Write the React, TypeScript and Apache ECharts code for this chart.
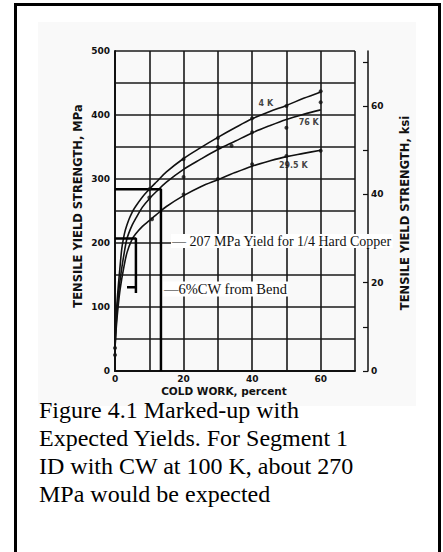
import React, { useEffect, useRef } from "react";
import * as echarts from "echarts";

// Cold work (%) vs tensile yield strength (MPa)
const curve4K: [number, number][] = [
  [0, 35], [0.2, 70], [0.5, 100], [1, 135], [1.5, 165], [2, 192], [2.5, 208], [3, 220], [4, 236],
  [5, 248], [6, 257], [8, 272], [10, 284], [12, 295], [15, 311], [20, 332], [25, 349],
  [30, 365], [35, 380], [40, 394], [45, 405], [50, 415], [55, 426], [60, 436],
];
const curve76K: [number, number][] = [
  [0, 35], [0.3, 70], [0.7, 100], [1.2, 130], [2, 162], [2.7, 185], [3.4, 205], [4, 215], [5, 228],
  [6, 238], [8, 256], [10, 269], [12, 280], [15, 295], [20, 315], [25, 331],
  [30, 346], [35, 359], [40, 372], [45, 383], [50, 393], [55, 401], [60, 408],
];
const curve295K: [number, number][] = [
  [0, 35], [0.4, 70], [0.9, 100], [1.5, 128], [2.5, 160], [3.5, 185], [4.9, 205], [6, 214],
  [8, 226], [10, 235], [12, 244], [15, 257], [20, 274], [25, 288], [30, 299],
  [35, 310], [40, 320], [45, 328], [50, 335], [55, 340], [60, 345],
];
const points4K: [number, number][] = [[10, 284], [20, 331], [30, 364], [40, 395], [50, 414], [60, 437]];
const points76K: [number, number][] = [[10, 271], [20, 303], [30, 350], [34, 352], [40, 373], [50, 380], [60, 420]];
const points295K: [number, number][] = [[10.8, 237], [20, 276], [30, 300], [40, 323], [50, 336], [60, 344]];
const pointsZero: [number, number][] = [[0, 36], [0, 25]];

const curveLabels: { name: string; value: [number, number] }[] = [
  { name: "4 K", value: [44, 418] },
  { name: "76 K", value: [56.5, 389] },
  { name: "29.5 K", value: [52, 321] },
];

// Marked-up annotation lines (CW %, MPa)
const mark283: [number, number][] = [[0, 284], [13.4, 284], [13.4, 0]];
const mark207: [number, number][] = [[0, 207], [6.1, 207], [6.1, 122]];
const markTick: [number, number][] = [[3.5, 131], [6.1, 131]];

const xTickLabels = [0, 20, 40, 60];
const yTickLabels = [0, 100, 200, 300, 400, 500];
const ksiTickLabels = [0, 20, 40, 60];

const captionLines = [
  "Figure 4.1 Marked-up with",
  "Expected Yields. For Segment 1",
  "ID with CW at 100 K, about 270",
  "MPa would be expected",
];

const axisFont = "DejaVu Sans";
const serif = "Liberation Serif";

export default function App() {
  const ref = useRef<HTMLDivElement>(null);
  useEffect(() => {
    if (!ref.current) return;
    const chart = echarts.init(ref.current, null, { renderer: "svg" });
    const lineStyleCurve = { color: "#111", width: 1.6 };
    const lineSeries = (name: string, data: [number, number][]) => ({
      name,
      type: "line",
      data,
      smooth: 0.35,
      showSymbol: false,
      lineStyle: lineStyleCurve,
      z: 3,
    });
    const markSeries = (data: [number, number][]) => ({
      type: "line",
      data,
      showSymbol: false,
      lineStyle: { color: "#000", width: 2.5 },
      z: 4,
    });
    const captionTexts = captionLines.map((line, i) => ({
      type: "text",
      x: 39,
      y: 409.5 + i * 28.3,
      z: 10,
      style: { text: line, fontFamily: serif, fontSize: 24, lineHeight: 18, fill: "#000", align: "left", verticalAlign: "middle" },
    }));
    chart.setOption({
      animation: false,
      backgroundColor: "#fff",
      grid: { left: 115, top: 51, width: 240, height: 320 },
      xAxis: {
        type: "value",
        min: 0,
        max: 70,
        interval: 10,
        axisLine: { show: true, lineStyle: { color: "#111", width: 2 } },
        axisTick: { show: false },
        axisLabel: {
          margin: 3,
          fontFamily: axisFont,
          fontWeight: "bold",
          fontSize: 9,
          color: "#111",
          formatter: (v: number) => (xTickLabels.includes(v) ? String(v) : ""),
        },
        splitLine: { show: true, lineStyle: { color: "#1a1a1a", width: 1.6 } },
      },
      yAxis: [
        {
          type: "value",
          min: 0,
          max: 500,
          interval: 50,
          axisLine: { show: true, lineStyle: { color: "#111", width: 2 } },
          axisTick: { show: false },
          axisLabel: {
            margin: 5,
            fontFamily: axisFont,
            fontWeight: "bold",
            fontSize: 9,
            color: "#111",
            formatter: (v: number) => (yTickLabels.includes(v) ? String(v) : ""),
          },
          splitLine: { show: true, lineStyle: { color: "#1a1a1a", width: 1.6 } },
        },
        {
          type: "value",
          position: "right",
          offset: 13,
          min: 0,
          max: 500 / 6.895,
          interval: 10,
          axisLine: { show: true, lineStyle: { color: "#111", width: 1.5 } },
          axisTick: { show: true, inside: true, length: 5, lineStyle: { color: "#111", width: 1.2 } },
          axisLabel: {
            margin: 3,
            fontFamily: axisFont,
            fontWeight: "bold",
            fontSize: 9,
            color: "#111",
            showMaxLabel: false,
            formatter: (v: number) => (ksiTickLabels.includes(Math.round(v)) && Math.abs(v - Math.round(v)) < 1e-6 ? String(Math.round(v)) : ""),
          },
          splitLine: { show: false },
        },
      ],
      series: [
        lineSeries("4 K", curve4K),
        lineSeries("76 K", curve76K),
        lineSeries("29.5 K", curve295K),
        {
          type: "scatter",
          data: [...points4K, ...points76K, ...points295K, ...pointsZero],
          symbolSize: 4,
          itemStyle: { color: "#111" },
          z: 5,
        },
        {
          type: "scatter",
          data: curveLabels,
          symbolSize: 0,
          label: {
            show: true,
            formatter: (p: any) => p.name,
            fontFamily: axisFont,
            fontWeight: "bold",
            fontSize: 8,
            color: "#111",
            position: "inside",
          },
          z: 6,
        },
        markSeries(mark283),
        markSeries(mark207),
        markSeries(markTick),
      ],
      graphic: [
        { type: "rect", z: -10, shape: { x: 38, y: 22, width: 378, height: 384 }, style: { fill: "#f9f9f9" } },
        { type: "rect", z: 100, shape: { x: 15.5, y: 4.5, width: 424, height: 560 }, style: { fill: "none", stroke: "#000", lineWidth: 3 } },
        {
          type: "text", x: 78, y: 206, rotation: Math.PI / 2, z: 10,
          style: { text: "TENSILE YIELD STRENGTH, MPa", fontFamily: axisFont, fontWeight: "bold", fontSize: 11.5, fill: "#111", align: "center", verticalAlign: "middle" },
        },
        {
          type: "text", x: 405, y: 213, rotation: Math.PI / 2, z: 10,
          style: { text: "TENSILE YIELD STRENGTH, ksi", fontFamily: axisFont, fontWeight: "bold", fontSize: 11.5, fill: "#111", align: "center", verticalAlign: "middle" },
        },
        {
          type: "text", x: 224, y: 390.5, z: 10,
          style: { text: "COLD WORK, percent", fontFamily: axisFont, fontWeight: "bold", fontSize: 10.5, lineHeight: 10, fill: "#111", align: "center", verticalAlign: "middle" },
        },
        {
          type: "text", x: 171, y: 241, z: 10,
          style: { text: "— 207 MPa Yield for 1/4 Hard Copper", fontFamily: serif, fontSize: 14, fill: "#111", align: "left", verticalAlign: "middle", backgroundColor: "#fff", padding: [0, 1] },
        },
        {
          type: "text", x: 163, y: 289, z: 10,
          style: { text: "—6%CW from Bend", fontFamily: serif, fontSize: 14.5, fill: "#111", align: "left", verticalAlign: "middle", backgroundColor: "#fff", padding: [0, 1] },
        },
        ...captionTexts,
      ],
    });
    return () => chart.dispose();
  }, []);
  return <div ref={ref} style={{ position: "absolute", left: 0, top: 0, width: 443, height: 552 }} />;
}
